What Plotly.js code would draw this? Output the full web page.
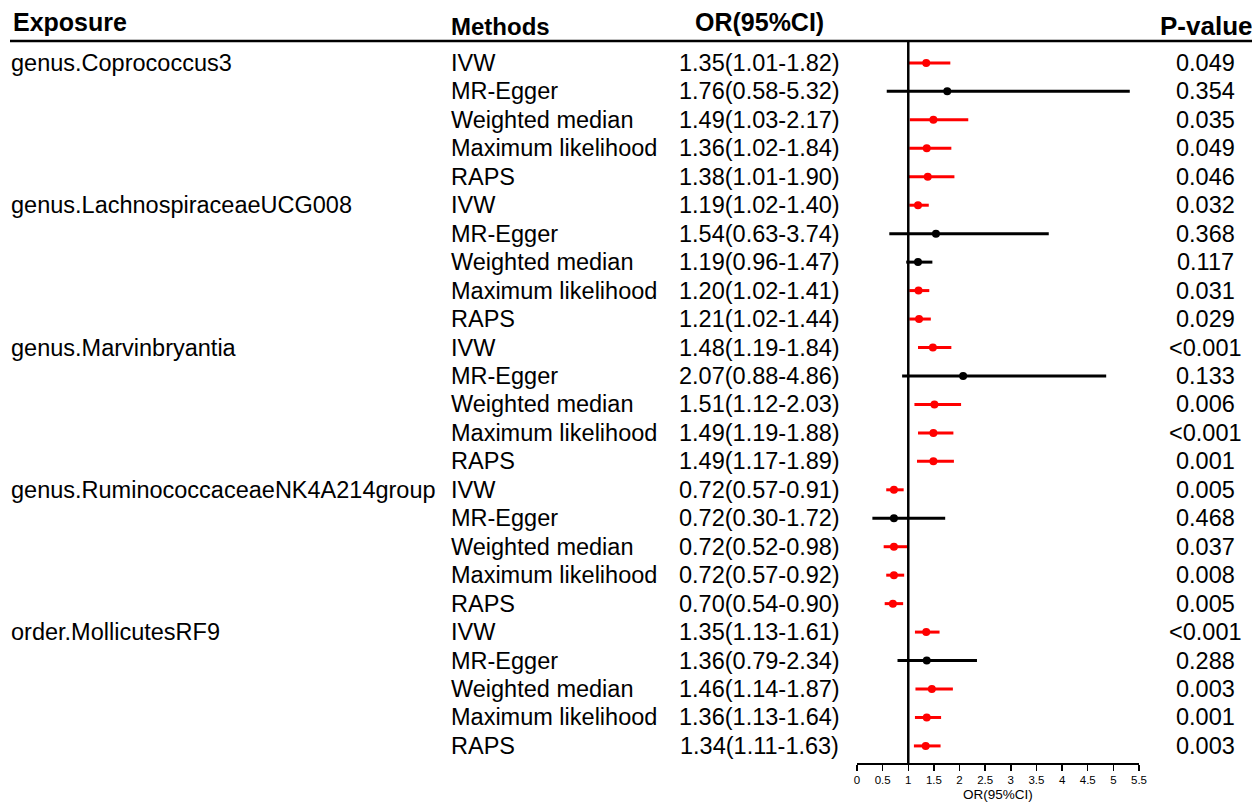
<!DOCTYPE html>
<html>
<head>
<meta charset="utf-8">
<script src="https://cdn.plot.ly/plotly-3.0.1.min.js"></script>
<style>html,body{margin:0;padding:0;background:#fff;}#chart{width:1252px;height:805px;}</style>
</head>
<body>
<div id="chart"></div>
<script>
const exposures = ["genus.Coprococcus3","genus.LachnospiraceaeUCG008","genus.Marvinbryantia","genus.RuminococcaceaeNK4A214group","order.MollicutesRF9"];
const methods = ["IVW","MR-Egger","Weighted median","Maximum likelihood","RAPS"];
const orVals = [1.35,1.76,1.49,1.36,1.38, 1.19,1.54,1.19,1.20,1.21, 1.48,2.07,1.51,1.49,1.49, 0.72,0.72,0.72,0.72,0.70, 1.35,1.36,1.46,1.36,1.34];
const lowerCI = [1.01,0.58,1.03,1.02,1.01, 1.02,0.63,0.96,1.02,1.02, 1.19,0.88,1.12,1.19,1.17, 0.57,0.30,0.52,0.57,0.54, 1.13,0.79,1.14,1.13,1.11];
const upperCI = [1.82,5.32,2.17,1.84,1.90, 1.40,3.74,1.47,1.41,1.44, 1.84,4.86,2.03,1.88,1.89, 0.91,1.72,0.98,0.92,0.90, 1.61,2.34,1.87,1.64,1.63];
const pLabels = ["0.049","0.354","0.035","0.049","0.046", "0.032","0.368","0.117","0.031","0.029", "<0.001","0.133","0.006","<0.001","0.001", "0.005","0.468","0.037","0.008","0.005", "<0.001","0.288","0.003","0.001","0.003"];
const xTicks = [0,0.5,1,1.5,2,2.5,3,3.5,4,4.5,5,5.5];

const W = 1252, H = 805;
const FONT = "Liberation Sans, Arial, sans-serif";
const px = v => v / W;
const py = v => (H - v) / H;

const nRows = orVals.length;
const rows = [...Array(nRows).keys()];
const pNum = pLabels.map(s => s.startsWith("<") ? 0.0009 : parseFloat(s));
const sig = rows.filter(i => pNum[i] < 0.05);
const ns = rows.filter(i => pNum[i] >= 0.05);

function trace(idx, color) {
  return {
    type: "scatter", mode: "markers",
    x: idx.map(i => orVals[i]), y: idx.map(i => i),
    marker: {color: color, size: 8},
    error_x: {type: "data", symmetric: false,
      array: idx.map(i => upperCI[i] - orVals[i]),
      arrayminus: idx.map(i => orVals[i] - lowerCI[i]),
      color: color, thickness: 3, width: 0},
    hoverinfo: "skip", showlegend: false
  };
}

const ann = [];
const fs = 23.5;
const hfs = 25;
const base = {showarrow: false, borderpad: 0, borderwidth: 0};
// headers
ann.push(Object.assign({text: "<b>Exposure</b>", x: px(13), y: py(22), xref: "paper", yref: "paper", xanchor: "left", yanchor: "middle", font: {family: FONT, size: hfs, color: "#000"}}, base));
ann.push(Object.assign({text: "<b>Methods</b>", x: px(451), y: py(27), xref: "paper", yref: "paper", xanchor: "left", yanchor: "middle", font: {family: FONT, size: hfs - 1, color: "#000"}}, base));
ann.push(Object.assign({text: "<b>OR(95%CI)</b>", x: px(759), y: py(22), xref: "paper", yref: "paper", xanchor: "center", yanchor: "middle", font: {family: FONT, size: hfs, color: "#000"}}, base));
ann.push(Object.assign({text: "<b>P-value</b>", x: px(1253), y: py(26), xref: "paper", yref: "paper", xanchor: "right", yanchor: "middle", font: {family: FONT, size: hfs + 1, color: "#000"}}, base));

exposures.forEach((e, k) => {
  ann.push(Object.assign({text: e, x: px(11), y: k * methods.length, xref: "paper", yref: "y", xanchor: "left", yanchor: "middle", font: {family: FONT, size: fs, color: "#000"}}, base));
});
rows.forEach(i => {
  const m = methods[i % methods.length];
  ann.push(Object.assign({text: m, x: px(451), y: i, xref: "paper", yref: "y", xanchor: "left", yanchor: "middle", font: {family: FONT, size: fs, color: "#000"}}, base));
  const orTxt = orVals[i].toFixed(2) + "(" + lowerCI[i].toFixed(2) + "-" + upperCI[i].toFixed(2) + ")";
  ann.push(Object.assign({text: orTxt, x: px(759), y: i, xref: "paper", yref: "y", xanchor: "center", yanchor: "middle", font: {family: FONT, size: fs, color: "#000"}}, base));
  ann.push(Object.assign({text: pLabels[i], x: px(1205), y: i, xref: "paper", yref: "y", xanchor: "center", yanchor: "middle", font: {family: FONT, size: fs, color: "#000"}}, base));
});

const yBottom = py(763), yTop = py(41);
const layout = {
  width: W, height: H,
  margin: {l: 0, r: 0, t: 0, b: 0},
  paper_bgcolor: "#fff", plot_bgcolor: "#fff",
  xaxis: {
    domain: [px(857), px(1139)], range: [0, 5.5],
    tickvals: xTicks, ticktext: xTicks.map(String),
    showline: true, linecolor: "#000", linewidth: 1.5,
    ticks: "outside", ticklen: 6, tickwidth: 1.5, tickcolor: "#000",
    showgrid: false, zeroline: false,
    tickfont: {family: FONT, size: 11.5, color: "#000"},
    title: {text: "OR(95%CI)", font: {family: FONT, size: 13.5, color: "#000"}, standoff: 4}
  },
  yaxis: {
    domain: [yBottom, yTop], range: [24.6, -0.77],
    visible: false, showgrid: false, zeroline: false
  },
  shapes: [
    {type: "line", xref: "paper", yref: "paper", x0: px(10), x1: 1, y0: yTop, y1: yTop, line: {color: "#000", width: 2.5}},
    {type: "line", xref: "x", yref: "paper", x0: 1, x1: 1, y0: yBottom, y1: yTop, line: {color: "#000", width: 2.5}}
  ],
  annotations: ann
};

Plotly.newPlot("chart", [trace(sig, "#FF0000"), trace(ns, "#000000")], layout, {displayModeBar: false, staticPlot: true});
</script>
</body>
</html>
